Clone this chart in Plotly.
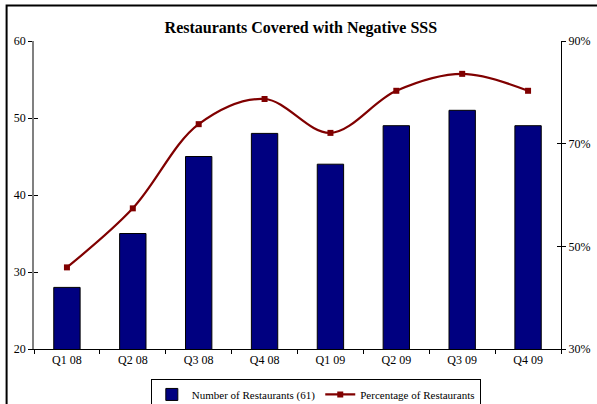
import plotly.graph_objects as go

quarters = ["Q1 08", "Q2 08", "Q3 08", "Q4 08", "Q1 09", "Q2 09", "Q3 09", "Q4 09"]
num_restaurants = [28, 35, 45, 48, 44, 49, 51, 49]
pct_restaurants = [45.9, 57.4, 73.8, 78.7, 72.1, 80.3, 83.6, 80.3]
left_ticks = [20, 30, 40, 50, 60]
right_ticks = [30, 50, 70, 90]
right_labels = ["30%", "50%", "70%", "90%"]

font_family = "Liberation Serif"

fig = go.Figure()
fig.add_trace(go.Bar(
    x=quarters, y=num_restaurants, name="Number of Restaurants (61)",
    marker=dict(color="#000080", line=dict(color="#000000", width=1)),
    yaxis="y",
))
fig.add_trace(go.Scatter(
    x=quarters, y=pct_restaurants, name="Percentage of Restaurants",
    mode="lines+markers", line=dict(color="#800000", width=2.2, shape="spline", smoothing=1.0),
    marker=dict(symbol="square", size=6, color="#800000"),
    yaxis="y2",
))

fig.update_layout(
    width=597, height=404,
    margin=dict(l=34, r=36, t=41, b=55, autoexpand=False),
    paper_bgcolor="white", plot_bgcolor="white",
    font=dict(family=font_family, size=12, color="#000000"),
    title=dict(text="<b>Restaurants Covered with Negative SSS</b>", x=0.504, xanchor="center",
               xref="container", y=0.933, yanchor="middle", yref="container",
               font=dict(family=font_family, size=16, color="#000000")),
    bargap=0.6,
    showlegend=True,
    legend=dict(orientation="h", xref="container", x=0.529, xanchor="center",
                yref="container", y=0.062, yanchor="top",
                bordercolor="#000000", borderwidth=1, bgcolor="white",
                font=dict(family=font_family, size=11), itemwidth=30, tracegroupgap=0),
    xaxis=dict(type="category", showline=True, linecolor="#000000", linewidth=1,
               ticks="outside", ticklen=4, tickson="boundaries", tickcolor="#000000",
               showgrid=False, zeroline=False, tickfont=dict(size=12), automargin=False),
    yaxis=dict(range=[20, 60], tickvals=left_ticks, showline=True, linecolor="#808080", linewidth=1.5,
               ticks="outside", ticklen=4, tickcolor="#000000", showgrid=False, zeroline=False,
               tickfont=dict(size=12), automargin=False),
    yaxis2=dict(range=[30, 90], tickvals=right_ticks, ticktext=right_labels, overlaying="y",
                side="right", showline=True, linecolor="#000000", linewidth=1,
                ticks="outside", ticklen=4, tickcolor="#000000", showgrid=False, zeroline=False,
                tickfont=dict(size=12), automargin=False),
    yaxis3=dict(range=[20, 60], tickvals=left_ticks, overlaying="y", side="left",
                showticklabels=False, ticks="inside", ticklen=4, tickcolor="#000000",
                showgrid=False, zeroline=False, showline=False, automargin=False),
    yaxis4=dict(range=[30, 90], tickvals=right_ticks, overlaying="y", side="right",
                showticklabels=False, ticks="inside", ticklen=4, tickcolor="#000000",
                showgrid=False, zeroline=False, showline=False, automargin=False),
)

# dummy invisible traces to activate the extra tick axes
fig.add_trace(go.Scatter(x=[quarters[0]], y=[None], yaxis="y3", showlegend=False, hoverinfo="skip"))
fig.add_trace(go.Scatter(x=[quarters[0]], y=[None], yaxis="y4", showlegend=False, hoverinfo="skip"))

# outer chart frame
fig.add_shape(type="rect", xref="paper", yref="paper", x0=-0.052, x1=1.3, y0=-0.3, y1=1.115,
              line=dict(color="#000000", width=2), fillcolor="rgba(0,0,0,0)", layer="below")

fig.write_html("out.html", config={"displayModeBar": False},
               post_script="document.body.style.margin='0';document.body.style.overflow='hidden';")
